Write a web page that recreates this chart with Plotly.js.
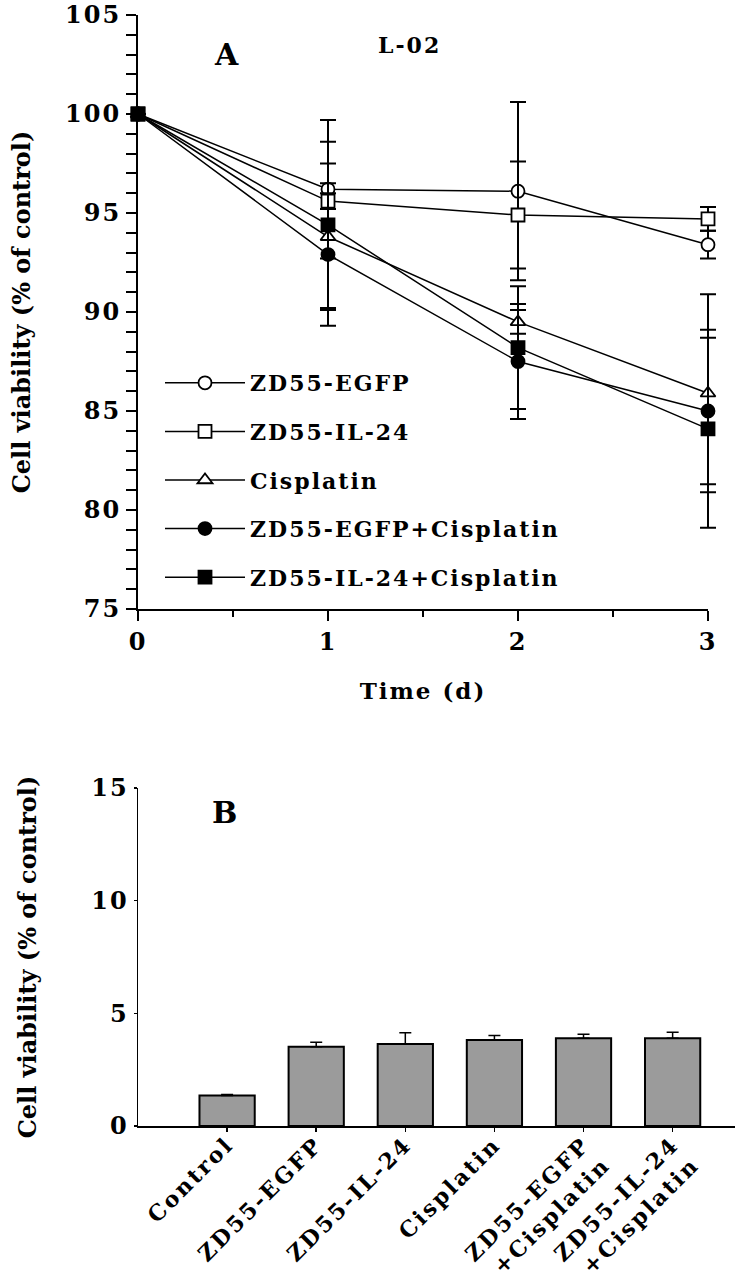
<!DOCTYPE html>
<html><head><meta charset="utf-8">
<script src="https://cdn.plot.ly/plotly-3.0.1.min.js"></script>
<style>
html,body{margin:0;padding:0;background:#fff;}
#chart{width:741px;height:1281px;}
.xtick text,.ytick text,.y2tick text,.legendtext,.annotation-text,.g-xtitle text{letter-spacing:2px;}
.x2tick text{letter-spacing:2.5px;}
</style></head><body><div id="chart"></div>
<script>
// ---- Panel A data ----
const days = [0, 1, 2, 3];
const seriesNames = ['ZD55-EGFP', 'ZD55-IL-24', 'Cisplatin', 'ZD55-EGFP+Cisplatin', 'ZD55-IL-24+Cisplatin'];
const egfp = [100, 96.2, 96.1, 93.4];
const egfpErr = [0, 3.5, 4.5, 0.7];
const il24 = [100, 95.6, 94.9, 94.7];
const il24Err = [0, 0.4, 2.7, 0.6];
const cis = [100, 93.8, 89.5, 85.9];
const cisErr = [0, 3.7, 0.6, 5.0];
const egfpCis = [100, 92.9, 87.5, 85.0];
const egfpCisErr = [0, 3.6, 2.9, 3.7];
const il24Cis = [100, 94.4, 88.2, 84.1];
const il24CisErr = [0, 4.2, 3.1, 5.0];

// ---- Panel B data ----
const groups = ['Control', 'ZD55-EGFP', 'ZD55-IL-24', 'Cisplatin', 'ZD55-EGFP<br>+Cisplatin', 'ZD55-IL-24<br>+Cisplatin'];
const viability = [1.35, 3.52, 3.64, 3.82, 3.89, 3.89];
const viabilityErr = [0.05, 0.2, 0.5, 0.2, 0.18, 0.27];
const viabilityErrMinus = [0, 0, 0, 0, 0, 0];

const W = 741, H = 1281;
const FAM = 'DejaVu Serif, serif';
const font = (s) => ({family: FAM, size: s, color: '#000', weight: 'bold'});

// panel A plot area (px)
const AX0 = 138, AX1 = 708, AYT = 15, AYB = 609;
const PAD = 25;                      // extra room so end error bars are not clipped
const PXU = (AX1 - AX0) / 3;         // px per day

function lineTrace(name, y, err, symbol, fill, size) {
  return {
    type: 'scatter', mode: 'lines+markers', x: days, y: y, name: name,
    legendgroup: name, cliponaxis: false,
    line: {color: '#000', width: 1.5},
    marker: {symbol: symbol, size: size, color: fill, line: {color: '#000', width: 1.8}},
    error_y: {type: 'data', array: err, visible: true, color: '#000', thickness: 2, width: 8},
    xaxis: 'x3', yaxis: 'y3'
  };
}

const traces = [
  // carrier of the visible panel-A axes (draws nothing itself)
  {type: 'scatter', mode: 'none', x: days, y: egfp, showlegend: false, hoverinfo: 'skip', xaxis: 'x', yaxis: 'y'},
  lineTrace(seriesNames[0], egfp, egfpErr, 'circle', '#fff', 13),
  lineTrace(seriesNames[1], il24, il24Err, 'square', '#fff', 13),
  lineTrace(seriesNames[2], cis, cisErr, 'triangle-up', '#fff', 13),
  lineTrace(seriesNames[3], egfpCis, egfpCisErr, 'circle', '#000', 13),
  lineTrace(seriesNames[4], il24Cis, il24CisErr, 'square', '#000', 13),
  {
    type: 'bar', x: groups, y: viability, width: 0.62, showlegend: false,
    marker: {color: '#9b9b9b', line: {color: '#000', width: 2}},
    error_y: {type: 'data', symmetric: false, array: viabilityErr, arrayminus: viabilityErrMinus,
              visible: true, color: '#000', thickness: 1.5, width: 6},
    xaxis: 'x2', yaxis: 'y2'
  }
];

const layout = {
  width: W, height: H,
  margin: {l: 0, r: 0, t: 0, b: 0},
  paper_bgcolor: '#fff', plot_bgcolor: 'rgba(0,0,0,0)',
  showlegend: true,
  legend: {
    x: 160 / W, xanchor: 'left', y: 1 - 362 / H, yanchor: 'top',
    font: font(22), bgcolor: 'rgba(0,0,0,0)', itemwidth: 80, tracegroupgap: 17
  },
  xaxis: {
    domain: [AX0 / W, AX1 / W], anchor: 'y', range: [0, 3], dtick: 1,
    showline: true, linecolor: '#000', linewidth: 2,
    ticks: 'outside', ticklen: 10, tickwidth: 2, tickcolor: '#000',
    minor: {dtick: 0.5, ticks: 'outside', ticklen: 6, tickwidth: 2, tickcolor: '#000'},
    showgrid: false, zeroline: false, tickfont: font(24),
    title: {text: 'Time (d)', font: font(23), standoff: 28}
  },
  yaxis: {
    domain: [1 - AYB / H, 1 - AYT / H], anchor: 'x', range: [75, 105], dtick: 5,
    showline: true, linecolor: '#000', linewidth: 2,
    ticks: 'outside', ticklen: 10, tickwidth: 2, tickcolor: '#000',
    minor: {dtick: 1, ticks: 'outside', ticklen: 10, tickwidth: 2, tickcolor: '#000'},
    showgrid: false, zeroline: false, tickfont: font(24),
    title: {text: 'Cell viability (% of control)', font: font(24), standoff: 28}
  },
  // invisible twin of panel A's axes, slightly wider, so end error bars are not clipped
  xaxis3: {
    domain: [(AX0 - PAD) / W, (AX1 + PAD) / W], anchor: 'y3',
    range: [-PAD / PXU, 3 + PAD / PXU], visible: false, showgrid: false, zeroline: false
  },
  yaxis3: {
    domain: [1 - AYB / H, 1 - AYT / H], anchor: 'x3', range: [75, 105],
    visible: false, showgrid: false, zeroline: false
  },
  xaxis2: {
    domain: [138 / W, 735 / W], anchor: 'y2', type: 'category', range: [-1, 5.7],
    showline: true, linecolor: '#000', linewidth: 2,
    ticks: 'outside', ticklen: 4, tickwidth: 1.5, tickcolor: '#000',
    tickangle: -45, ticklabelstandoff: -9,
    showgrid: false, zeroline: false, tickfont: font(22)
  },
  yaxis2: {
    domain: [1 - 1126 / H, 1 - 788 / H], anchor: 'x2', range: [0, 15], dtick: 5,
    showline: true, linecolor: '#000', linewidth: 1.5,
    ticks: 'outside', ticklen: 3, tickwidth: 1.5, tickcolor: '#000',
    showgrid: false, zeroline: false, tickfont: font(24),
    title: {text: 'Cell viability (% of control)', font: font(24), standoff: 48}
  },
  annotations: [
    {text: 'A', x: 212 / W, y: 1 - 35 / H, xref: 'paper', yref: 'paper', showarrow: false, font: font(30)},
    {text: 'L-02', x: 409 / W, y: 1 - 30 / H, xref: 'paper', yref: 'paper', showarrow: false, font: font(22)},
    {text: 'B', x: 210 / W, y: 1 - 812 / H, xref: 'paper', yref: 'paper', showarrow: false, font: font(30)}
  ]
};

Plotly.newPlot('chart', traces, layout, {staticPlot: true, displayModeBar: false});
</script></body></html>
